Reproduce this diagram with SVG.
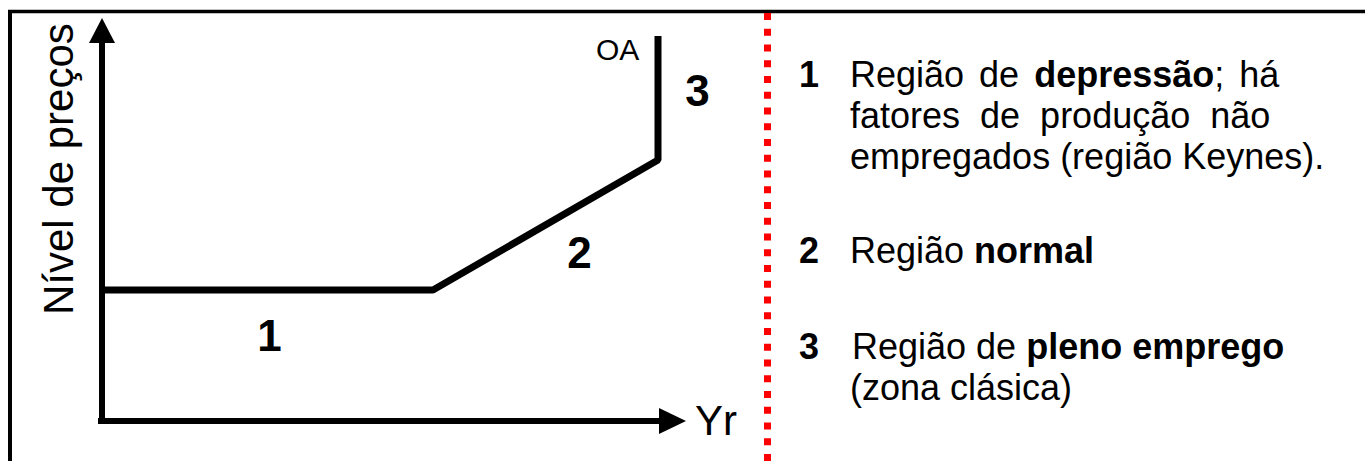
<svg xmlns="http://www.w3.org/2000/svg" width="1365" height="461" viewBox="0 0 1365 461">
<style>
.t{font-family:"Liberation Sans",Arial,sans-serif;fill:#000}
.r{font-size:36px}
.b{font-weight:bold}
.big{font-size:44px;font-weight:bold}
.ax{stroke:#000;stroke-width:6;fill:none}
</style>
<rect width="1365" height="461" fill="#fff"/>
<g id="frame" stroke="#000" fill="none">
<line x1="10" y1="10" x2="10" y2="461" stroke-width="4"/>
<line x1="8" y1="11.5" x2="1365" y2="11.5" stroke-width="3.5"/>
</g>
<g id="connectors">
<line class="ax" x1="102" y1="40" x2="102" y2="424"/>
<polygon points="89,43 115,43 102,18" fill="#000"/>
<line class="ax" x1="98" y1="421" x2="662" y2="421"/>
<polygon points="659,408 659,434 686,421" fill="#000"/>
<polyline points="102,290 433,290 658,160 658,36" fill="none" stroke="#000" stroke-width="7" stroke-linejoin="bevel"/>
<line x1="767.5" y1="13" x2="767.5" y2="461" stroke="#ff0000" stroke-width="7" stroke-dasharray="7 8.75"/>
</g>
<g id="axis-labels">
<text class="t" font-size="42" transform="translate(73,315) rotate(-90)">Nível de preços</text>
<text class="t" font-size="42" x="695" y="435">Yr</text>
<text class="t" font-size="30" x="596" y="60">OA</text>
</g>
<g id="region-labels">
<text class="t big" x="269.5" y="351" text-anchor="middle">1</text>
<text class="t big" x="579.5" y="268" text-anchor="middle">2</text>
<text class="t big" x="697.5" y="106" text-anchor="middle">3</text>
</g>
<g id="legend-1">
<text class="t r b" x="799" y="87">1</text>
<text class="t r" x="850" y="87" word-spacing="5">Região de <tspan class="b">depressão</tspan>; há</text>
<text class="t r" x="850" y="128" word-spacing="10">fatores de produção não</text>
<text class="t r" x="850" y="169">empregados (região Keynes).</text>
</g>
<g id="legend-2">
<text class="t r b" x="799" y="263">2</text>
<text class="t r" x="850" y="263">Região <tspan class="b">normal</tspan></text>
</g>
<g id="legend-3">
<text class="t r b" x="799" y="359">3</text>
<text class="t r" x="852" y="359">Região de <tspan class="b">pleno emprego</tspan></text>
<text class="t r" x="850" y="400">(zona clásica)</text>
</g>
</svg>
